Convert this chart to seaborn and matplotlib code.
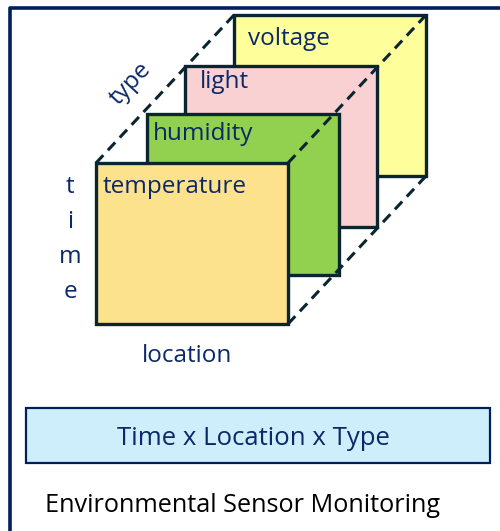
import matplotlib
matplotlib.use("Agg")
import matplotlib.pyplot as plt
import matplotlib.patches as patches
import seaborn as sns

# layers of the data cube, front to back
layer_names = ["temperature", "humidity", "light", "voltage"]
layer_colors = ["#fde28e", "#92d050", "#fad1d2", "#fefe9a"]
axis_letters = ["t", "i", "m", "e"]
cube_label = "Time x Location x Type"
title = "Environmental Sensor Monitoring"

# layout (pixel coordinates, y down)
lefts = [96, 147, 185, 234]
tops = [163, 114, 66, 15]
W, H = 192, 161
text_dx = [7, 6, 15, 14]
text_dy = [30, 26, 22, 30]

navy = "#0b2868"
edge = "#0b2530"

sns.set_theme(style="white")
plt.rcParams["font.family"] = ["Open Sans", "DejaVu Sans"]

fig = plt.figure(figsize=(5.0, 5.31), dpi=100)
ax = fig.add_axes([0, 0, 1, 1])
ax.set_xlim(0, 500)
ax.set_ylim(531, 0)
ax.axis("off")

# frame
ax.plot([10, 10, 500], [531, 8, 8], color="#00205b", lw=2.6, solid_capstyle="butt")

# layers drawn back to front
for i in reversed(range(len(layer_names))):
    ax.add_patch(patches.Rectangle((lefts[i], tops[i]), W, H, facecolor=layer_colors[i],
                                   edgecolor=edge, lw=2.4, zorder=2 + (3 - i)))
    ax.text(lefts[i] + text_dx[i], tops[i] + text_dy[i], layer_names[i], color=navy,
            fontsize=17.5, va="baseline", ha="left", zorder=3 + (3 - i))

# dashed edges of the cube
f, b = 0, 3
for (x0, y0, x1, y1) in [(lefts[f], tops[f], lefts[b], tops[b]),
                         (lefts[f] + W, tops[f], lefts[b] + W, tops[b]),
                         (lefts[f] + W, tops[f] + H, lefts[b] + W, tops[b] + H)]:
    ax.plot([x0, x1], [y0, y1], color=edge, lw=2.2, ls=(0, (3.5, 2.2)), zorder=10)

# axis labels
ax.text(131, 84, "type", color=navy, fontsize=17.5, rotation=47, ha="center", va="center")
for k, ch in enumerate(axis_letters):
    ax.text(70, 193 + k * 35, ch, color=navy, fontsize=17.5, ha="center", va="baseline")
ax.text(187, 362, "location", color=navy, fontsize=17.5, ha="center", va="baseline")

# summary box
ax.add_patch(patches.Rectangle((26, 408), 464, 55, facecolor="#cdeefa",
                               edgecolor="#00205b", lw=1.6))
ax.text(253, 445, cube_label, color=navy, fontsize=18.5, ha="center", va="baseline")

ax.text(45, 512, title, color="black", fontsize=18.2, ha="left", va="baseline")

fig.savefig("out.png", dpi=100)
